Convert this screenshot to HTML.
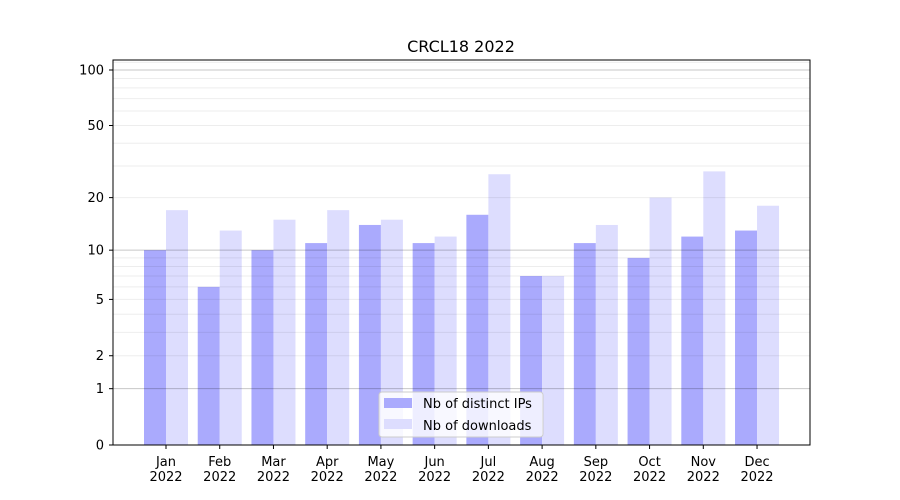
<!DOCTYPE html>
<html><head><meta charset="utf-8"><style>body{margin:0;background:#fff}svg{display:block;font-family:"DejaVu Sans","Liberation Sans",sans-serif}</style></head>
<body><svg id="s" width="900" height="500" xmlns="http://www.w3.org/2000/svg"></svg>
<script>
const s=document.getElementById('s');let h='';
const Y=v=>445-187.1*Math.log10(1+v);
const dark=[10,6,10,11,14,11,16,7,11,9,12,13],light=[17,13,15,17,15,12,27,7,14,20,28,18];
const m=['Jan','Feb','Mar','Apr','May','Jun','Jul','Aug','Sep','Oct','Nov','Dec'];
for(let i=0;i<12;i++){const c=166+i*53.73;
h+=`<rect x="${c-22}" y="${Y(dark[i])}" width="22" height="${445-Y(dark[i])}" fill="#aaaafd"/>`;
h+=`<rect x="${c}" y="${Y(light[i])}" width="22" height="${445-Y(light[i])}" fill="#ddddfe"/>`;
h+=`<line x1="${c}" x2="${c}" y1="445" y2="449" stroke="#000"/>`;
h+=`<text x="${c}" y="466" font-size="13" text-anchor="middle">${m[i]}</text><text x="${c}" y="481" font-size="13" text-anchor="middle">2022</text>`;}
for(const v of [2,3,4,5,6,7,8,9,20,30,40,50,60,70,80,90,110]){const y=Y(v);if(y>60)h+=`<line x1="113" x2="810" y1="${y}" y2="${y}" stroke="#000" stroke-opacity="0.07"/>`;}
for(const v of [1,10,100]){const y=Y(v);h+=`<line x1="113" x2="810" y1="${y}" y2="${y}" stroke="#000" stroke-opacity="0.22"/>`;}
for(const v of [0,1,2,5,10,20,50,100]){const y=Y(v);h+=`<line x1="109" x2="113" y1="${y}" y2="${y}" stroke="#000"/><text x="104" y="${y+4.5}" font-size="13" text-anchor="end">${v}</text>`;}
h+=`<rect x="113" y="60" width="697" height="385" fill="none" stroke="#000"/>`;
h+=`<text x="461" y="52" font-size="16" text-anchor="middle">CRCL18 2022</text>`;
h+=`<rect x="379" y="392" width="164" height="45" rx="3" fill="#fff" fill-opacity="0.8" stroke="#ccc"/>`;
h+=`<rect x="384" y="398" width="28" height="10" fill="#aaaafd"/><text x="423" y="408" font-size="13">Nb of distinct IPs</text>`;
h+=`<rect x="384" y="419" width="28" height="10" fill="#ddddfe"/><text x="423" y="430" font-size="13">Nb of downloads</text>`;
s.innerHTML=h;
</script></body></html>
